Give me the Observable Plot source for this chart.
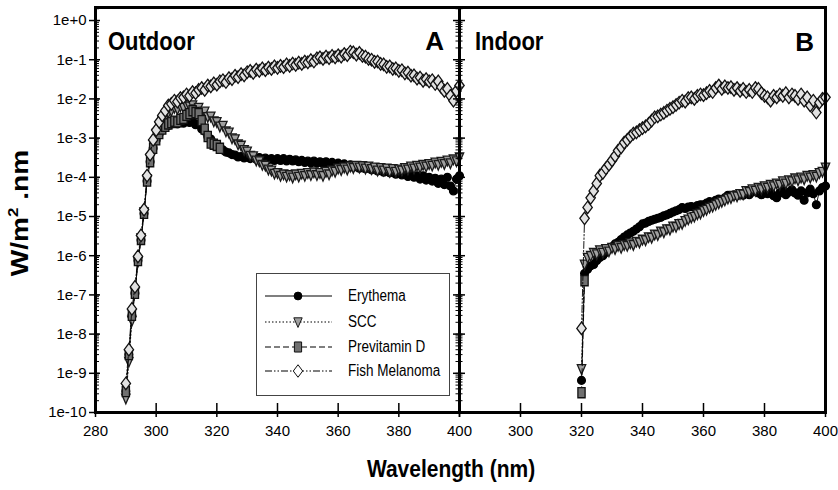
<!DOCTYPE html>
<html><head><meta charset="utf-8">
<script src="https://cdn.jsdelivr.net/npm/d3@7"></script>
<script src="https://cdn.jsdelivr.net/npm/@observablehq/plot@0.6"></script>
<style>
html,body{margin:0;padding:0;background:#fff;}
#chart{position:relative;width:838px;height:490px;overflow:hidden;background:#fff;font-family:"Liberation Sans",Arial,sans-serif;}
#chart svg{position:absolute;top:0;}
</style></head><body><div id="chart"></div>
<script>
// ---------------- DATA ----------------
const seriesNames = ["Erythema", "SCC", "Previtamin D", "Fish Melanoma"];
const xTicks = [280, 300, 320, 340, 360, 380, 400];
const yTicks = [1e-10, 1e-9, 1e-8, 1e-7, 1e-6, 1e-5, 1e-4, 1e-3, 1e-2, 1e-1, 1];

const outdoorWavelength = [
 290,291,292,293,294,295,296,297,298,299,
 300,301,302,303,304,305,306,307,308,309,
 310,311,312,313,314,315,316,317,318,319,
 320,321,322,323,324,325,326,327,328,329,
 330,331,332,333,334,335,336,337,338,339,
 340,341,342,343,344,345,346,347,348,349,
 350,351,352,353,354,355,356,357,358,359,
 360,361,362,363,364,365,366,367,368,369,
 370,371,372,373,374,375,376,377,378,379,
 380,381,382,383,384,385,386,387,388,389,
 390,391,392,393,394,395,396,397,398,399,
 400];
const outdoorErythema = [
 3.5e-10,3e-9,3e-8,1.1e-7,7.5e-7,2.5e-6,1.2e-5,8e-5,2.5e-4,5.5e-4,
 9e-4,1.3e-3,1.6e-3,1.9e-3,2.1e-3,2.3e-3,2.5e-3,2.3e-3,2.6e-3,2.4e-3,
 2.8e-3,2.5e-3,2.7e-3,2.2e-3,2.3e-3,1.7e-3,1.5e-3,1.1e-3,9.5e-4,7.5e-4,
 6.5e-4,5.5e-4,5e-4,4.4e-4,4.2e-4,3.8e-4,3.7e-4,3.3e-4,3.4e-4,3.1e-4,
 3.3e-4,3e-4,3.2e-4,2.9e-4,3.2e-4,2.8e-4,3.1e-4,2.8e-4,3e-4,2.7e-4,
 3e-4,2.7e-4,3e-4,2.6e-4,2.9e-4,2.6e-4,2.8e-4,2.5e-4,2.7e-4,2.4e-4,
 2.6e-4,2.3e-4,2.6e-4,2.3e-4,2.5e-4,2.2e-4,2.5e-4,2.2e-4,2.4e-4,2.1e-4,
 2.3e-4,2e-4,2.2e-4,1.9e-4,2.1e-4,1.8e-4,2e-4,1.7e-4,1.9e-4,1.65e-4,
 1.8e-4,1.55e-4,1.7e-4,1.45e-4,1.6e-4,1.35e-4,1.5e-4,1.3e-4,1.4e-4,1.2e-4,
 1.35e-4,1.15e-4,1.25e-4,1.05e-4,1.2e-4,1e-4,1.1e-4,9e-5,1.1e-4,8.5e-5,
 1e-4,8e-5,9.5e-5,7e-5,9e-5,6.5e-5,1e-4,6e-5,4.5e-5,9e-5,
 1.1e-4];
const outdoorSCC = [
 2.3e-10,2e-9,2.2e-8,1.2e-7,7e-7,2.8e-6,1.3e-5,9e-5,3e-4,7e-4,
 1.3e-3,2e-3,2.8e-3,3.5e-3,4.5e-3,5e-3,6e-3,5.5e-3,6.5e-3,6e-3,
 7e-3,6.5e-3,7e-3,5.5e-3,6e-3,4.5e-3,4.8e-3,3.5e-3,3.6e-3,2.7e-3,
 2.6e-3,2e-3,2.1e-3,1.5e-3,1.4e-3,1e-3,9.5e-4,7e-4,6.5e-4,5e-4,
 4.6e-4,3.6e-4,3.5e-4,2.7e-4,2.6e-4,2.1e-4,2e-4,1.6e-4,1.5e-4,1.25e-4,
 1.3e-4,1.1e-4,1.2e-4,1.05e-4,1.15e-4,1e-4,1.2e-4,1.05e-4,1.25e-4,1.1e-4,
 1.3e-4,1.15e-4,1.35e-4,1.15e-4,1.3e-4,1.1e-4,1.4e-4,1.2e-4,1.5e-4,1.4e-4,
 1.7e-4,1.55e-4,1.8e-4,1.6e-4,1.9e-4,1.75e-4,2e-4,1.8e-4,1.95e-4,1.7e-4,
 1.9e-4,1.65e-4,1.8e-4,1.5e-4,1.75e-4,1.5e-4,1.7e-4,1.4e-4,1.65e-4,1.4e-4,
 1.6e-4,1.5e-4,1.75e-4,1.6e-4,1.9e-4,1.7e-4,2e-4,1.8e-4,2.1e-4,1.9e-4,
 2.2e-4,2e-4,2.4e-4,2.1e-4,2.5e-4,2.2e-4,2.7e-4,2.3e-4,2.9e-4,2.6e-4,
 3.3e-4];
// previtamin D is only given from 290 to 321 nm
const outdoorPrevitaminD = [
 3.4e-10,3e-9,3e-8,1.1e-7,7.5e-7,2.6e-6,1.2e-5,8e-5,2.5e-4,5.5e-4,
 9e-4,1.3e-3,1.7e-3,2e-3,2.3e-3,2.5e-3,2.7e-3,2.6e-3,3e-3,3.2e-3,
 3.8e-3,4.2e-3,5e-3,4.5e-3,4.2e-3,2.8e-3,1.7e-3,1.1e-3,7.5e-4,7e-4,
 6.5e-4,5.5e-4];
const outdoorFishMelanoma = [
 5.5e-10,4e-9,4.4e-8,1.6e-7,9.6e-7,3.3e-6,1.5e-5,1.1e-4,3.8e-4,9e-4,
 1.6e-3,2.6e-3,3.8e-3,5e-3,6.8e-3,7.5e-3,9e-3,8.5e-3,1.05e-2,1.1e-2,
 1.3e-2,1.2e-2,1.5e-2,1.4e-2,1.7e-2,1.9e-2,1.7e-2,2.2e-2,2.1e-2,2.5e-2,
 2.3e-2,2.8e-2,3e-2,2.7e-2,3.4e-2,3.2e-2,3.9e-2,3.6e-2,4.3e-2,4e-2,
 4.8e-2,5.2e-2,4.6e-2,5.6e-2,5.2e-2,6e-2,5.4e-2,6.3e-2,5.8e-2,6.8e-2,
 6.2e-2,7e-2,6.5e-2,7.6e-2,7e-2,8e-2,7.4e-2,8.4e-2,7.8e-2,9e-2,
 8.6e-2,9.8e-2,9e-2,1.08e-1,1.15e-1,1.05e-1,1.2e-1,1.1e-1,1.25e-1,1.15e-1,
 1.3e-1,1.2e-1,1.4e-1,1.3e-1,1.6e-1,1.55e-1,1.35e-1,1.5e-1,1.25e-1,1.2e-1,
 1.05e-1,1e-1,8.8e-2,9e-2,7.8e-2,7.6e-2,6.6e-2,6.8e-2,5.8e-2,6e-2,
 5.2e-2,5.4e-2,4.5e-2,4.7e-2,3.9e-2,4e-2,3.3e-2,3.5e-2,2.9e-2,3.2e-2,
 2.8e-2,3e-2,2.4e-2,2.8e-2,2e-2,1.6e-2,1.8e-2,1.2e-2,9e-3,1.6e-2,
 2.2e-2];

const indoorWavelength = [
 320,321,322,323,324,325,326,327,328,329,
 330,331,332,333,334,335,336,337,338,339,
 340,341,342,343,344,345,346,347,348,349,
 350,351,352,353,354,355,356,357,358,359,
 360,361,362,363,364,365,366,367,368,369,
 370,371,372,373,374,375,376,377,378,379,
 380,381,382,383,384,385,386,387,388,389,
 390,391,392,393,394,395,396,397,398,399,
 400];
const indoorErythema = [
 6.6e-10,3.5e-7,4.5e-7,5.5e-7,6e-7,7.5e-7,9e-7,1e-6,1.2e-6,1.5e-6,
 1.7e-6,2e-6,2.2e-6,2.6e-6,3e-6,3.4e-6,3.8e-6,4.2e-6,4.8e-6,5.5e-6,
 6.5e-6,6.8e-6,7.5e-6,8e-6,8.5e-6,9e-6,9.5e-6,1.05e-5,1.1e-5,1.2e-5,
 1.3e-5,1.4e-5,1.5e-5,1.7e-5,1.6e-5,1.75e-5,1.8e-5,1.7e-5,1.9e-5,2e-5,
 2e-5,2.2e-5,2.4e-5,2.2e-5,2.6e-5,2.8e-5,2.6e-5,3e-5,3.5e-5,3.2e-5,
 3.6e-5,3.4e-5,3.8e-5,3.5e-5,4e-5,3.6e-5,4.2e-5,4.5e-5,4e-5,3.6e-5,
 4.2e-5,3.8e-5,4.4e-5,3.4e-5,3e-5,4e-5,4.6e-5,3.6e-5,4.2e-5,4.8e-5,
 4e-5,3.5e-5,4.5e-5,2.6e-5,4e-5,5e-5,3.8e-5,2e-5,4.5e-5,5.5e-5,
 6e-5];
const indoorSCC = [
 1.3e-9,6e-7,9e-7,1e-6,1.2e-6,1.1e-6,1.4e-6,1.2e-6,1.5e-6,1.3e-6,
 1.6e-6,1.5e-6,1.8e-6,1.6e-6,1.9e-6,1.8e-6,2.1e-6,1.9e-6,2.3e-6,2.2e-6,
 2.6e-6,2.5e-6,3e-6,2.9e-6,3.5e-6,3.4e-6,4.2e-6,4e-6,4.8e-6,4.7e-6,
 5.6e-6,5.5e-6,6.5e-6,6.6e-6,7.8e-6,8.5e-6,9.5e-6,1e-5,1.15e-5,1.2e-5,
 1.4e-5,1.5e-5,1.7e-5,1.8e-5,2e-5,2.2e-5,2.4e-5,2.6e-5,2.9e-5,3e-5,
 3.4e-5,3.3e-5,3.8e-5,3.7e-5,4.5e-5,4.3e-5,5e-5,4.6e-5,5.5e-5,5e-5,
 6e-5,5.5e-5,6.5e-5,6e-5,7e-5,6.5e-5,8e-5,7e-5,8.5e-5,8e-5,
 9.5e-5,8.5e-5,1e-4,9e-5,1.1e-4,1e-4,1.15e-4,1.05e-4,1.3e-4,1.4e-4,
 1.8e-4];
// previtamin D indoor: only 320 and 321 nm
const indoorPrevitaminD = [3.2e-10, 2.3e-7];
const indoorFishMelanoma = [
 1.4e-8,9e-6,1.7e-5,3e-5,4.5e-5,7e-5,1.1e-4,1.3e-4,1.7e-4,2.1e-4,
 2.7e-4,3.5e-4,4.8e-4,5.8e-4,7.7e-4,9e-4,1.1e-3,1.3e-3,1.4e-3,1.6e-3,
 1.8e-3,2e-3,2.3e-3,2.8e-3,3.4e-3,3.6e-3,4e-3,4.4e-3,5e-3,5.6e-3,
 6.2e-3,7e-3,8e-3,9e-3,8.5e-3,1.05e-2,1.1e-2,1e-2,1.2e-2,1.3e-2,
 1.25e-2,1.4e-2,1.6e-2,1.5e-2,1.9e-2,2.2e-2,1.8e-2,2.1e-2,1.9e-2,2e-2,
 1.7e-2,1.9e-2,1.6e-2,1.8e-2,1.5e-2,1.7e-2,1.5e-2,1.9e-2,1.8e-2,1.4e-2,
 1.2e-2,1.1e-2,9e-3,1.2e-2,1.1e-2,1.3e-2,1.2e-2,1.4e-2,1.1e-2,1.3e-2,
 1.2e-2,1e-2,1.3e-2,9e-3,1.1e-2,6.8e-3,9e-3,4.5e-3,8e-3,1e-2,
 1.1e-2];

// ---------------- STYLE ----------------
const symR = size => Math.sqrt(size / Math.PI);
const symCircle = {draw(c, s){ const r = symR(s); c.moveTo(r, 0); c.arc(0, 0, r, 0, 2 * Math.PI); }};
const symTriDown = {draw(c, s){ const r = symR(s); c.moveTo(-r, -r); c.lineTo(r, -r); c.lineTo(0, 1.3 * r); c.closePath(); }};
const symSquare = {draw(c, s){ const r = symR(s), h = 1.4 * r; c.moveTo(-r, -h); c.lineTo(r, -h); c.lineTo(r, h); c.lineTo(-r, h); c.closePath(); }};
const symDiamond = {draw(c, s){ const r = symR(s), h = 1.33 * r; c.moveTo(0, -h); c.lineTo(r, 0); c.lineTo(0, h); c.lineTo(-r, 0); c.closePath(); }};

const styles = [
  {symbol: symCircle,  r: 3.9, fill: "#000000", stroke: "#000000", dash: null},
  {symbol: symTriDown, r: 4.2, fill: "#a0a0a0", stroke: "#1a1a1a", dash: "1.5,2"},
  {symbol: symSquare,  r: 3.6, fill: "#707070", stroke: "#111111", dash: "6,3"},
  {symbol: symDiamond, r: 4.7, fill: "#e2e2e2", stroke: "#111111", dash: "7,2,1.5,2,1.5,2"}
];

const FONT = '"Liberation Sans", Arial, sans-serif';
const yDomain = [1e-10, 2.15];
const yMinor = d3.scaleLog().domain(yDomain).ticks(20);
const fmtE = d3.format(".0e");

function buildRows(wl, arrays) {
  return arrays.map((vals, k) => vals.map((v, i) => ({wl: wl[i], v, s: seriesNames[k]})));
}

function panel({rows, width, marginLeft, marginRight, labels, xLabelTicks}) {
  const marks = [];
  rows.forEach((data, k) => {
    const st = styles[k];
    marks.push(Plot.line(data, {x: "wl", y: "v", stroke: "#000", strokeWidth: 0.9, strokeDasharray: st.dash}));
    marks.push(Plot.dot(data, {x: "wl", y: "v", r: st.r, symbol: st.symbol, fill: st.fill, stroke: st.stroke, strokeWidth: 1.3}));
  });
  const axes = [
    Plot.axisX(xTicks, {anchor: "bottom", tickSize: 14, dy: -9, tickFormat: () => "", strokeWidth: 1.5, label: null}),
    Plot.axisX(xLabelTicks, {anchor: "bottom", tickSize: 0, tickPadding: 13, tickFormat: d => String(d), fontSize: 15, label: null})
  ];
  if (labels) {
    axes.push(
      Plot.axisY(yMinor, {anchor: "left", tickSize: 4, dx: 4, tickFormat: () => "", strokeWidth: 1, label: null}),
      Plot.axisY(yTicks, {anchor: "left", tickSize: 11, dx: 5, tickFormat: () => "", strokeWidth: 1.5, label: null}),
      Plot.axisY(yTicks, {anchor: "left", tickSize: 0, tickPadding: 9, tickFormat: fmtE, fontSize: 15, label: null})
    );
  } else {
    axes.push(
      Plot.axisY(yMinor, {anchor: "left", tickSize: 7, dx: 3.5, tickFormat: () => "", strokeWidth: 1, label: null}),
      Plot.axisY(yTicks, {anchor: "left", tickSize: 12, dx: 6, tickFormat: () => "", strokeWidth: 1.5, label: null})
    );
  }
  return Plot.plot({
    width, height: 490,
    marginLeft, marginRight, marginTop: 7, marginBottom: 78,
    x: {domain: [280, 400]},
    y: {type: "log", domain: yDomain},
    style: {fontFamily: FONT, fontSize: "15px", color: "#000", background: "transparent", overflow: "visible"},
    marks: [...marks, ...axes, Plot.frame({stroke: "#000", strokeWidth: 3})]
  });
}

const chart = document.getElementById("chart");

const svgA = panel({
  rows: buildRows(outdoorWavelength, [outdoorErythema, outdoorSCC, outdoorPrevitaminD, outdoorFishMelanoma]),
  width: 460, marginLeft: 95, marginRight: 1, labels: true, xLabelTicks: xTicks
});
svgA.style.left = "0px";
chart.appendChild(svgA);

const svgB = panel({
  rows: buildRows(indoorWavelength, [indoorErythema, indoorSCC, indoorPrevitaminD, indoorFishMelanoma]),
  width: 391, marginLeft: 13, marginRight: 12, labels: false, xLabelTicks: xTicks.filter(t => t !== 280)
});
svgB.style.left = "446px";
chart.appendChild(svgB);

// ---------------- overlay text & legend ----------------
const ov = d3.select(chart).append("svg").attr("width", 838).attr("height", 490)
  .style("left", "0px").style("pointer-events", "none").attr("font-family", FONT);

function label(x, y, txt, size, anchor, sy) {
  ov.append("text").attr("transform", `translate(${x},${y}) scale(1,${sy})`)
    .attr("text-anchor", anchor).attr("font-weight", "bold").attr("font-size", size).attr("fill", "#000").text(txt);
}
label(108, 50, "Outdoor", 22, "start", 1.15);
label(444, 50, "A", 26, "end", 1.0);
label(475, 50, "Indoor", 22, "start", 1.15);
label(814, 51, "B", 26, "end", 1.0);
label(451, 477, "Wavelength (nm)", 21, "middle", 1.15);

const yt = ov.append("text").attr("transform", "translate(28,213) rotate(-90) scale(1.22,1)")
  .attr("text-anchor", "middle").attr("font-weight", "bold").attr("font-size", 23).attr("fill", "#000");
yt.append("tspan").text("W/m");
yt.append("tspan").attr("dy", -10).attr("font-size", 14).text("2");
yt.append("tspan").attr("dy", 10).text(" .nm");

// legend
const lg = ov.append("g");
lg.append("rect").attr("x", 256.5).attr("y", 273.5).attr("width", 193).attr("height", 122)
  .attr("fill", "#fff").attr("stroke", "#444").attr("stroke-width", 1);
const legendRowY = [296, 322, 347, 371];
seriesNames.forEach((name, k) => {
  const st = styles[k], y = legendRowY[k];
  lg.append("line").attr("x1", 265).attr("x2", 332).attr("y1", y).attr("y2", y)
    .attr("stroke", "#000").attr("stroke-width", 1.2).attr("stroke-dasharray", st.dash);
  lg.append("path").attr("d", d3.symbol(st.symbol, Math.PI * st.r * st.r)())
    .attr("transform", `translate(298,${y})`).attr("fill", k === 3 ? "#fff" : st.fill).attr("stroke", st.stroke).attr("stroke-width", 1);
  lg.append("text").attr("transform", `translate(348,${y + 5}) scale(1,1.2)`)
    .attr("font-size", 13.5).attr("fill", "#000").text(name);
});
</script>
</body></html>
